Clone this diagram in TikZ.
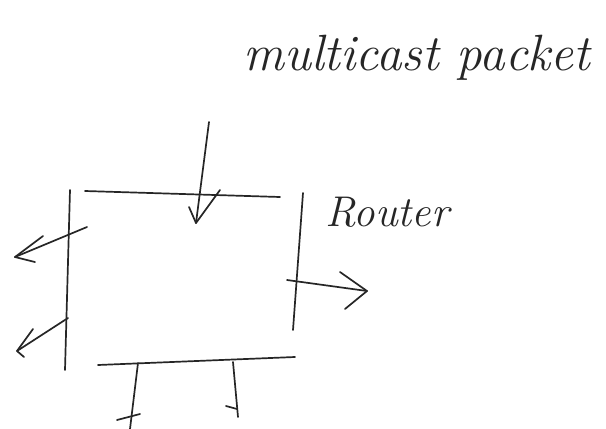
\documentclass[tikz,border=0pt]{standalone}
\begin{document}
\begin{tikzpicture}[x=1pt,y=-1pt,
  pen/.style={line width=1.7pt,black!85,line cap=round,line join=round},
  handtext/.style={black!85}]
\useasboundingbox (0,0) rectangle (606,429);
% box sides
\coordinate (t1) at (85,191); \coordinate (t2) at (280,197);
\coordinate (l1) at (70,190); \coordinate (l2) at (65,370);
\coordinate (r1) at (303,193); \coordinate (r2) at (293,330);
\coordinate (b1) at (98,365); \coordinate (b2) at (295,357);
\draw[pen] (t1) -- (t2);
\draw[pen] (l1) -- (l2);
\draw[pen] (r1) -- (r2);
\draw[pen] (b1) -- (b2);
% incoming arrow
\coordinate (in0) at (209,122); \coordinate (in1) at (196,223);
\coordinate (inA) at (189,207); \coordinate (inB) at (220,190);
\draw[pen] (in0) -- (in1);
\draw[pen] (inA) -- (in1) -- (inB);
% upper left arrow
\coordinate (la0) at (87,227); \coordinate (la1) at (15,257);
\coordinate (laA) at (43,236); \coordinate (laB) at (35,262);
\draw[pen] (la0) -- (la1);
\draw[pen] (laA) -- (la1) -- (laB);
% lower left arrow
\coordinate (lb0) at (68,318); \coordinate (lb1) at (17,351);
\coordinate (lbA) at (33,329); \coordinate (lbB) at (24,357);
\draw[pen] (lb0) -- (lb1);
\draw[pen] (lbA) -- (lb1) -- (lbB);
% right arrow
\coordinate (ra0) at (287,280); \coordinate (ra1) at (367,291);
\coordinate (raA) at (340,272); \coordinate (raB) at (345,309);
\draw[pen] (ra0) -- (ra1);
\draw[pen] (raA) -- (ra1) -- (raB);
% bottom arrows (running off the page)
\coordinate (ba0) at (138,363); \coordinate (ba1) at (130,429);
\coordinate (baA) at (117,420); \coordinate (baB) at (140,414);
\coordinate (bb0) at (233,362); \coordinate (bb1) at (238,417);
\coordinate (bbA) at (226,406); \coordinate (bbB) at (237,409);
\draw[pen] (ba0) -- (ba1);
\draw[pen] (baA) -- (baB);
\draw[pen] (bb0) -- (bb1);
\draw[pen] (bbA) -- (bbB);
% labels
\node[handtext,font=\fontsize{51}{56}\selectfont\itshape] (title) at (417,58) {multicast packet};
\node[handtext,font=\fontsize{43}{48}\selectfont\itshape] (router) at (387,212) {Router};
\end{tikzpicture}
\end{document}
